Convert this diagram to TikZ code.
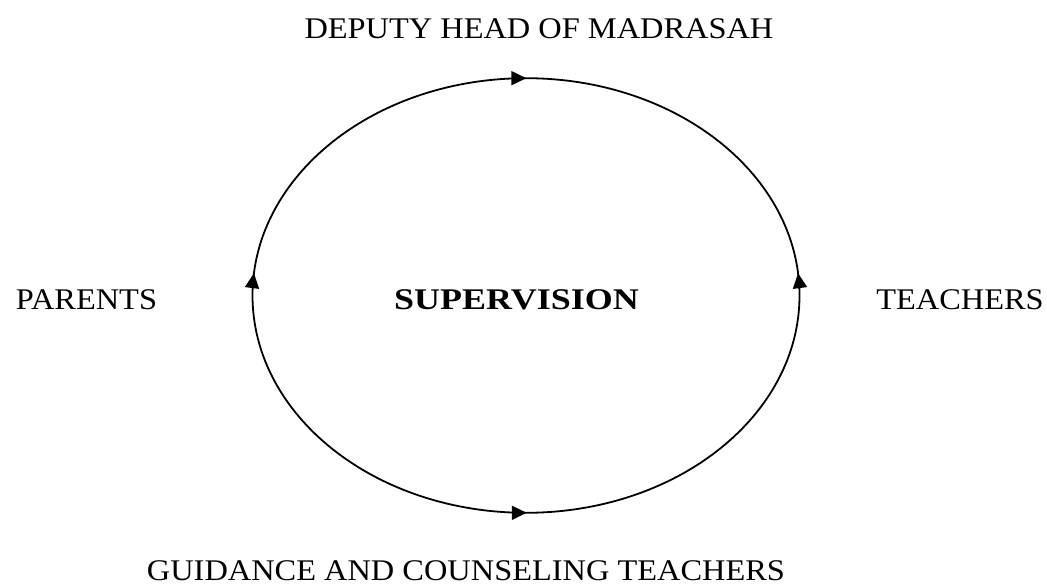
\documentclass[tikz,border=0pt]{standalone}
\usepackage{fontspec}
\setmainfont{Liberation Serif}[FakeStretch=1.08]
\usetikzlibrary{arrows.meta,decorations.markings}
\tikzset{
  mytip/.tip={Triangle[length=15pt,width=14pt]},
  lbl/.style={inner sep=0pt, anchor=base, text depth=0pt, font=\fontsize{30}{36}\selectfont},
  cyc/.style={line width=1.8pt, postaction={decorate}, decoration={markings,
    mark=at position 0.2495 with {\arrowreversed{mytip}},
    mark=at position 0.5145 with {\arrow{mytip}},
    mark=at position 0.7502 with {\arrow{mytip}},
    mark=at position 0.9855 with {\arrowreversed{mytip}}}}
}
\begin{document}
\begin{tikzpicture}[x=1pt,y=-1pt]
\useasboundingbox (0,0) rectangle (1047,585);
\coordinate (c) at (526,295.5);
\draw[cyc] (c) ellipse [x radius=273.5, y radius=217.3];
\node[lbl] (deputy) at (539,39) {DEPUTY HEAD OF MADRASAH};
\node[lbl] (parents) at (86.5,310) {PARENTS};
\node[lbl] (sup) at (516.5,310) {\scalebox{1.11}[1]{\bfseries SUPERVISION}};
\node[lbl] (teachers) at (960,310) {TEACHERS};
\node[lbl] (guidance) at (466,580) {GUIDANCE AND COUNSELING TEACHERS};
\end{tikzpicture}
\end{document}
